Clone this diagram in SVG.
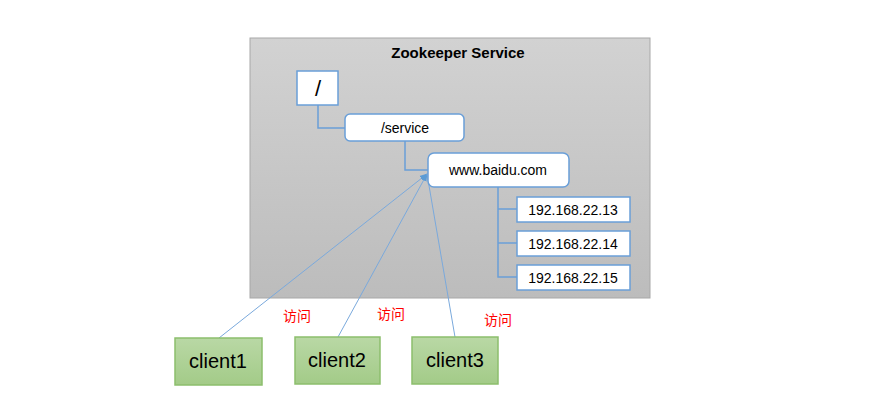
<svg xmlns="http://www.w3.org/2000/svg" width="886" height="410" viewBox="0 0 886 410">
<defs>
<linearGradient id="svcGrad" x1="0" y1="0" x2="0" y2="1">
<stop offset="0" stop-color="#d2d2d2"/>
<stop offset="1" stop-color="#bcbcbc"/>
</linearGradient>
<linearGradient id="cliGrad" x1="0" y1="0" x2="0" y2="1">
<stop offset="0" stop-color="#b9d8a5"/>
<stop offset="1" stop-color="#a3cb88"/>
</linearGradient>
<marker id="arr" viewBox="0 0 10 10" refX="9" refY="5" markerWidth="8" markerHeight="8" orient="auto" markerUnits="userSpaceOnUse">
<path d="M0,1 L10,5 L0,9 z" fill="#5b9bd5"/>
</marker>
<style>
.node{fill:#ffffff;stroke:#6a9fd8;stroke-width:1.5}
.tree{fill:none;stroke:#6a9fd8;stroke-width:1.5}
.link{fill:none;stroke:#7aa9dc;stroke-width:1}
.client{fill:url(#cliGrad);stroke:#8cbe6c;stroke-width:1.5}
.t{font-family:"Liberation Sans",Arial,sans-serif;fill:#000;text-anchor:middle}
.lbl{font-family:"Noto Sans CJK SC",sans-serif;fill:#ff0000;font-size:14px;text-anchor:middle}
</style>
</defs>
<g id="service">
<rect x="250" y="38" width="400" height="260" fill="url(#svcGrad)" stroke="#a8a8a8" stroke-width="1"/>
<text x="458" y="58" class="t" font-family="'Open Sans','Liberation Sans',sans-serif" font-weight="bold" font-size="15">Zookeeper Service</text>
</g>
<g id="connectors">
<polyline class="tree" points="318,105 318,128 345,128"/>
<polyline class="tree" points="405,141 405,170 428,170"/>
<polyline class="tree" points="498,187 498,277 517,277"/>
<line class="tree" x1="498" y1="209" x2="517" y2="209"/>
<line class="tree" x1="498" y1="243" x2="517" y2="243"/>
<line class="link" x1="219" y1="338" x2="427" y2="174" marker-end="url(#arr)"/>
<line class="link" x1="338" y1="337" x2="427" y2="174" marker-end="url(#arr)"/>
<line class="link" x1="455" y1="337" x2="427" y2="174"/>
</g>
<g id="root">
<rect class="node" x="297" y="71" width="41" height="34"/>
<text class="t" x="318" y="96" font-size="22">/</text>
</g>
<g id="service-node">
<rect class="node" x="345" y="114" width="119" height="27" rx="5"/>
<text class="t" x="405" y="133" font-size="14">/service</text>
</g>
<g id="baidu">
<rect class="node" x="428" y="153" width="141" height="34" rx="6"/>
<text class="t" x="498" y="175" font-size="14">www.baidu.com</text>
</g>
<g id="ip13">
<rect class="node" x="517" y="197" width="113" height="25"/>
<text class="t" x="573" y="215" font-size="14">192.168.22.13</text>
</g>
<g id="ip14">
<rect class="node" x="517" y="231" width="113" height="25"/>
<text class="t" x="573" y="249" font-size="14">192.168.22.14</text>
</g>
<g id="ip15">
<rect class="node" x="517" y="265" width="113" height="25"/>
<text class="t" x="573" y="283" font-size="14">192.168.22.15</text>
</g>
<g id="client1">
<rect class="client" x="175" y="338" width="87" height="47"/>
<text class="t" x="218" y="368" font-size="20">client1</text>
</g>
<g id="client2">
<rect class="client" x="295" y="337" width="85" height="47"/>
<text class="t" x="337" y="367" font-size="20">client2</text>
</g>
<g id="client3">
<rect class="client" x="412" y="337" width="86" height="47"/>
<text class="t" x="455" y="367" font-size="20">client3</text>
</g>
<g id="labels">
<text class="lbl" x="297" y="321">访问</text>
<text class="lbl" x="391" y="319">访问</text>
<text class="lbl" x="498" y="325">访问</text>
</g>
</svg>
